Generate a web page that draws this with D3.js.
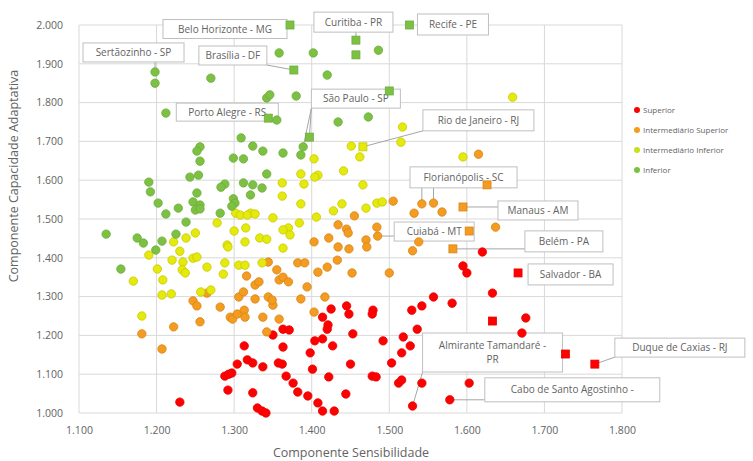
<!DOCTYPE html>
<html>
<head>
<meta charset="utf-8">
<script src="https://cdn.jsdelivr.net/npm/d3@7"></script>
<style>
  body { margin: 0; background: #fff; }
  text { font-family: "Open Sans", "Liberation Sans", sans-serif; }
</style>
</head>
<body>
<svg id="chart" width="753" height="461"></svg>
<script>
// ---- Data: Sensibilidade (x) vs Capacidade Adaptativa (y) by vulnerability tier ----
const tiers = ["Superior", "Intermediário Superior", "Intermediário Inferior", "Inferior"];

const xTickValues = [1.1, 1.2, 1.3, 1.4, 1.5, 1.6, 1.7, 1.8];
const yTickValues = [1.0, 1.1, 1.2, 1.3, 1.4, 1.5, 1.6, 1.7, 1.8, 1.9, 2.0];

const superior = [
  [1.595,1.379],[1.600,1.361],[1.620,1.415],[1.633,1.309],[1.581,1.283],[1.676,1.245],[1.671,1.206],
  [1.603,1.077],[1.557,1.299],[1.529,1.265],[1.542,1.276],[1.536,1.216],[1.518,1.196],[1.527,1.173],
  [1.516,1.155],[1.503,1.129],[1.492,1.186],[1.542,1.077],[1.512,1.077],[1.516,1.085],[1.479,1.265],
  [1.478,1.255],[1.445,1.276],[1.448,1.255],[1.425,1.268],[1.414,1.247],[1.421,1.227],[1.420,1.216],
  [1.453,1.204],[1.404,1.186],[1.414,1.191],[1.427,1.173],[1.363,1.216],[1.371,1.214],[1.350,1.201],
  [1.363,1.170],[1.398,1.155],[1.362,1.126],[1.401,1.113],[1.450,1.126],[1.422,1.093],[1.478,1.095],
  [1.483,1.093],[1.367,1.095],[1.376,1.077],[1.382,1.054],[1.395,1.044],[1.444,1.049],[1.408,1.026],
  [1.414,1.005],[1.429,1.005],[1.313,1.173],[1.317,1.137],[1.324,1.129],[1.304,1.126],[1.337,1.119],
  [1.288,1.095],[1.293,1.100],[1.297,1.103],[1.292,1.059],[1.324,1.052],[1.230,1.028],[1.330,1.013],
  [1.336,1.005],[1.341,1.000],[1.357,1.129]
];

const intermediarioSuperior = [
  [1.615,1.667],[1.568,1.518],[1.637,1.479],[1.505,1.546],[1.532,1.515],[1.542,1.539],[1.557,1.541],
  [1.455,1.508],[1.434,1.485],[1.445,1.474],[1.447,1.464],[1.484,1.479],[1.485,1.456],[1.403,1.441],
  [1.422,1.451],[1.434,1.428],[1.448,1.423],[1.470,1.446],[1.471,1.428],[1.538,1.441],[1.530,1.418],
  [1.382,1.387],[1.391,1.387],[1.408,1.363],[1.420,1.376],[1.433,1.394],[1.452,1.361],[1.500,1.361],
  [1.355,1.369],[1.358,1.343],[1.363,1.350],[1.370,1.338],[1.394,1.325],[1.386,1.294],[1.417,1.299],
  [1.350,1.278],[1.403,1.260],[1.358,1.242],[1.344,1.389],[1.181,1.204],[1.207,1.165],[1.222,1.222],
  [1.256,1.235],[1.247,1.289],[1.252,1.276],[1.265,1.309],[1.282,1.273],[1.295,1.247],[1.298,1.242],
  [1.304,1.255],[1.313,1.265],[1.314,1.247],[1.306,1.299],[1.312,1.312],[1.316,1.353],[1.327,1.330],
  [1.332,1.338],[1.327,1.294],[1.344,1.299],[1.349,1.291],[1.337,1.247],[1.342,1.209]
];

const intermediarioInferior = [
  [1.659,1.814],[1.595,1.660],[1.517,1.737],[1.515,1.698],[1.451,1.688],[1.462,1.660],[1.403,1.655],
  [1.441,1.624],[1.408,1.613],[1.404,1.608],[1.386,1.616],[1.390,1.590],[1.362,1.593],[1.362,1.559],
  [1.466,1.588],[1.386,1.539],[1.439,1.539],[1.428,1.521],[1.470,1.528],[1.484,1.541],[1.491,1.544],
  [1.406,1.505],[1.384,1.490],[1.370,1.477],[1.350,1.503],[1.321,1.515],[1.302,1.515],[1.308,1.510],
  [1.317,1.510],[1.327,1.513],[1.278,1.490],[1.363,1.472],[1.372,1.459],[1.363,1.425],[1.190,1.407],
  [1.201,1.371],[1.208,1.343],[1.170,1.340],[1.230,1.417],[1.222,1.441],[1.250,1.464],[1.238,1.451],
  [1.234,1.389],[1.233,1.369],[1.237,1.361],[1.220,1.394],[1.247,1.399],[1.252,1.402],[1.265,1.376],
  [1.207,1.304],[1.219,1.307],[1.181,1.250],[1.257,1.312],[1.270,1.317],[1.300,1.469],[1.315,1.477],
  [1.291,1.433],[1.292,1.428],[1.314,1.441],[1.333,1.451],[1.342,1.448],[1.288,1.387],[1.286,1.358],
  [1.306,1.381],[1.314,1.381],[1.336,1.387]
];

const inferior = [
  [1.198,1.850],[1.270,1.863],[1.212,1.773],[1.342,1.812],[1.346,1.820],[1.355,1.755],[1.309,1.709],
  [1.324,1.688],[1.337,1.675],[1.256,1.686],[1.252,1.675],[1.256,1.649],[1.299,1.657],[1.312,1.655],
  [1.342,1.616],[1.254,1.613],[1.243,1.608],[1.190,1.595],[1.192,1.570],[1.288,1.590],[1.283,1.582],
  [1.312,1.593],[1.324,1.588],[1.336,1.580],[1.321,1.562],[1.252,1.567],[1.202,1.541],[1.247,1.544],
  [1.256,1.536],[1.250,1.523],[1.256,1.526],[1.299,1.552],[1.301,1.541],[1.297,1.533],[1.228,1.528],
  [1.212,1.513],[1.282,1.515],[1.238,1.492],[1.135,1.461],[1.175,1.451],[1.183,1.438],[1.207,1.443],
  [1.225,1.461],[1.199,1.420],[1.154,1.371],[1.486,1.935],[1.402,1.928],[1.358,1.928],[1.420,1.871],
  [1.380,1.817],[1.434,1.750],[1.473,1.763],[1.389,1.686],[1.386,1.665],[1.363,1.670]
];

// Unlabelled municipalities shown with square markers: [x, y, tier index]
const squareMarked = [[1.457,1.923,3],[1.500,1.830,3],[1.633,1.237,0],[1.727,1.152,0]];

// Labelled municipalities
const cityNames = [
  "Belo Horizonte - MG", "Curitiba - PR", "Recife - PE", "Sertãozinho - SP", "Brasília - DF",
  "Porto Alegre - RS", "São Paulo - SP", "Rio de Janeiro - RJ", "Florianópolis - SC", "Manaus - AM",
  "Cuiabá - MT", "Belém - PA", "Salvador - BA", "Almirante Tamandaré - PR",
  "Cabo de Santo Agostinho -", "Duque de Caxias - RJ"
];
const cityX = [1.372, 1.457, 1.526, 1.198, 1.377, 1.344, 1.397, 1.466, 1.626, 1.595, 1.603, 1.582, 1.666, 1.530, 1.578, 1.765];
const cityY = [2.000, 1.961, 2.000, 1.879, 1.884, 1.760, 1.711, 1.686, 1.588, 1.531, 1.469, 1.423, 1.361, 1.018, 1.034, 1.126];
const cityTier = [3, 3, 3, 3, 3, 3, 3, 2, 1, 1, 1, 1, 0, 0, 0, 0];

// ---- Presentation ----
const fills   = ["#FF0000", "#F39C1F", "#E4EA0C", "#7DC043"];
const strokes = ["#E60000", "#D9831A", "#C9C800", "#6AAE38"];
const legendFills = ["#FF0000", "#F39C1F", "#C6E01A", "#7DC043"];

// Label box placement relative to its marker (px): box centre offset, size, marker shape,
// leader line to own marker, plus any additional leader ends (data coordinates)
const labelLayout = [
  { dx: -65,   dy: 4,     w: 124, h: 19, sq: true,  lead: false },
  { dx: -2.5,  dy: -18,   w: 79,  h: 20, sq: true,  lead: true  },
  { dx: 43.5,  dy: -0.5,  w: 71,  h: 21, sq: true,  lead: false },
  { dx: -21.5, dy: -19.5, w: 101, h: 19, sq: false, lead: true  },
  { dx: -61,   dy: -14.5, w: 68,  h: 19, sq: true,  lead: true  },
  { dx: -41,   dy: -6,    w: 102, h: 18, sq: true,  lead: false },
  { dx: 46.5,  dy: -38.5, w: 89,  h: 19, sq: true,  lead: true, extra: [[1.389, 1.686]] },
  { dx: 115.5, dy: -26.5, w: 111, h: 21, sq: true,  lead: true  },
  { dx: -23.5, dy: -7.5,  w: 107, h: 21, sq: true,  lead: false, extra: [[1.542, 1.539], [1.557, 1.541]] },
  { dx: 75,    dy: 3.5,   w: 80,  h: 19, sq: true,  lead: true  },
  { dx: -35,   dy: 0.5,   w: 80,  h: 19, sq: true,  lead: false, extra: [[1.485, 1.456]] },
  { dx: 111,   dy: -7.5,  w: 78,  h: 21, sq: true,  lead: true  },
  { dx: 52.5,  dy: 1.5,   w: 85,  h: 21, sq: true,  lead: false },
  { dx: 80,    dy: -53.5, w: 140, h: 39, sq: false, lead: true  },
  { dx: 122.5, dy: -10,   w: 175, h: 24, sq: false, lead: true  },
  { dx: 85,    dy: -16.5, w: 130, h: 19, sq: true,  lead: true  }
];

const svg = d3.select("#chart");
const x = d3.scaleLinear().domain([1.1, 1.8]).range([79, 622]);
const y = d3.scaleLinear().domain([1.0, 2.0]).range([413, 25]);
const fmt = d3.format(".3f");
const textColor = "#636363";

// Gridlines
const grid = svg.append("g");
grid.selectAll("line.h").data(yTickValues).join("line")
  .attr("x1", x(1.1)).attr("x2", x(1.8))
  .attr("y1", d => y(d)).attr("y2", d => y(d))
  .attr("stroke", "#D9D9D9").attr("stroke-width", 1);
grid.selectAll("line.v").data(xTickValues).join("line")
  .attr("y1", y(1.0)).attr("y2", y(2.0))
  .attr("x1", d => x(d)).attr("x2", d => x(d))
  .attr("stroke", "#D9D9D9").attr("stroke-width", 1);

// Axes
const xAxis = svg.append("g").attr("transform", `translate(0,${y(1.0)})`)
  .call(d3.axisBottom(x).tickValues(xTickValues).tickFormat(fmt).tickSize(0).tickPadding(14));
const yAxis = svg.append("g").attr("transform", `translate(${x(1.1)},0)`)
  .call(d3.axisLeft(y).tickValues(yTickValues).tickFormat(fmt).tickSize(0).tickPadding(16));
[xAxis, yAxis].forEach(g => {
  g.select(".domain").remove();
  g.selectAll("text").attr("fill", textColor).style("font-size", "10.5px")
    .style("font-family", "'Open Sans', sans-serif");
});

// Axis titles
svg.append("text").attr("x", 351).attr("y", 457).attr("text-anchor", "middle")
  .attr("fill", textColor).style("font-size", "12.5px").text("Componente Sensibilidade");
svg.append("text").attr("transform", "translate(18,176) rotate(-90)").attr("text-anchor", "middle")
  .attr("fill", textColor).style("font-size", "12.5px").text("Componente Capacidade Adaptativa");

// Labels (boxes + leader lines) sit beneath the markers
const cities = cityNames.map((name, i) => ({
  name, tier: cityTier[i], px: x(cityX[i]), py: y(cityY[i]), ...labelLayout[i]
}));

const leaders = svg.append("g");
const boxes = svg.append("g");
cities.forEach(c => {
  const bx0 = c.px + c.dx - c.w / 2, by0 = c.py + c.dy - c.h / 2;
  const bx1 = bx0 + c.w, by1 = by0 + c.h;
  const targets = [];
  if (c.lead) targets.push([c.px, c.py]);
  (c.extra || []).forEach(e => targets.push([x(e[0]), y(e[1])]));
  targets.forEach(([tx, ty]) => {
    const ex = Math.max(bx0 + 6, Math.min(tx, bx1 - 6));
    const ey = Math.max(by0, Math.min(ty, by1));
    const sx = (tx >= bx0 && tx <= bx1) ? ex : Math.max(bx0, Math.min(tx, bx1));
    leaders.append("line").attr("x1", sx).attr("y1", ey).attr("x2", tx).attr("y2", ty)
      .attr("stroke", "#A6A6A6").attr("stroke-width", 1);
  });
  boxes.append("rect").attr("x", bx0).attr("y", by0).attr("width", c.w).attr("height", c.h)
    .attr("fill", "#fff").attr("stroke", "#BFBFBF").attr("stroke-width", 1);
  const lines = c.name === "Almirante Tamandaré - PR" ? ["Almirante Tamandaré -", "PR"] : [c.name];
  const t = boxes.append("text").attr("text-anchor", "middle").attr("fill", textColor)
    .style("font-size", "10px");
  lines.forEach((ln, k) => {
    t.append("tspan").attr("x", bx0 + c.w / 2)
      .attr("y", by0 + c.h / 2 + 3.5 + (k - (lines.length - 1) / 2) * 14).text(ln);
  });
});

// Markers
const seriesData = [superior, intermediarioSuperior, intermediarioInferior, inferior];
const marks = svg.append("g");
seriesData.forEach((pts, ti) => {
  marks.append("g").selectAll("circle").data(pts).join("circle")
    .attr("cx", d => x(d[0])).attr("cy", d => y(d[1])).attr("r", 4.2)
    .attr("fill", fills[ti]).attr("stroke", strokes[ti]).attr("stroke-width", 0.8);
});
const sqSize = 8;
marks.append("g").selectAll("rect").data(squareMarked).join("rect")
  .attr("x", d => x(d[0]) - sqSize / 2).attr("y", d => y(d[1]) - sqSize / 2)
  .attr("width", sqSize).attr("height", sqSize)
  .attr("fill", d => fills[d[2]]).attr("stroke", d => strokes[d[2]]).attr("stroke-width", 0.8);
cities.forEach(c => {
  if (c.sq) {
    marks.append("rect").attr("x", c.px - sqSize / 2).attr("y", c.py - sqSize / 2)
      .attr("width", sqSize).attr("height", sqSize)
      .attr("fill", fills[c.tier]).attr("stroke", strokes[c.tier]).attr("stroke-width", 0.8);
  } else {
    marks.append("circle").attr("cx", c.px).attr("cy", c.py).attr("r", 4.2)
      .attr("fill", fills[c.tier]).attr("stroke", strokes[c.tier]).attr("stroke-width", 0.8);
  }
});

// Legend
const legend = svg.append("g").attr("transform", "translate(637,110)");
tiers.forEach((name, i) => {
  const row = legend.append("g").attr("transform", `translate(0,${i * 20})`);
  row.append("circle").attr("r", 3).attr("fill", legendFills[i]);
  row.append("text").attr("x", 6).attr("y", 3).attr("fill", textColor)
    .style("font-size", "8px").text(name);
});
</script>
</body>
</html>
